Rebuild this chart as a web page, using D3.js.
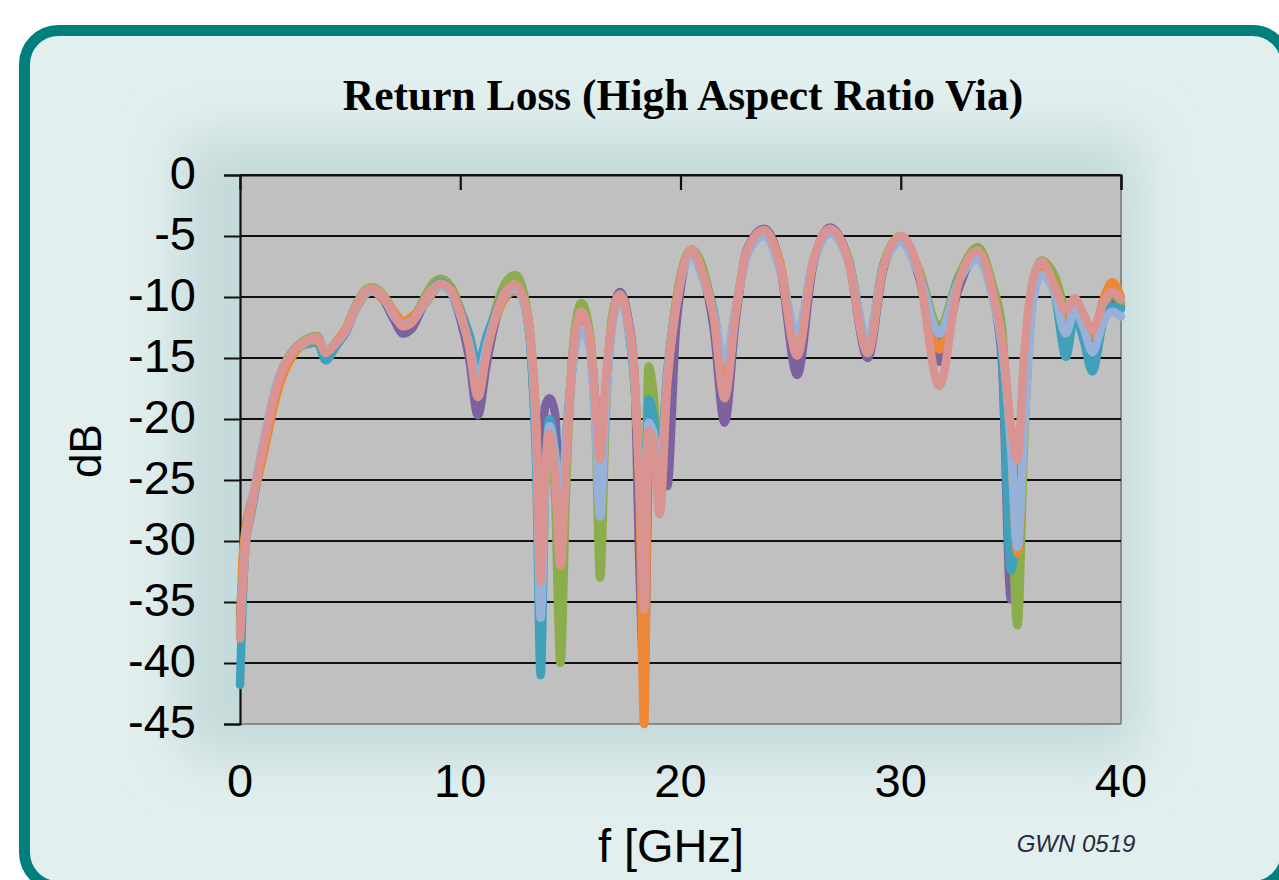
<!DOCTYPE html>
<html>
<head>
<meta charset="utf-8">
<script src="https://cdn.jsdelivr.net/npm/d3@7"></script>
<style>
  html, body { margin: 0; padding: 0; background: #ffffff; }
  svg { display: block; }
</style>
</head>
<body>
<svg id="chart" width="1279" height="880"></svg>
<script>
// Frequency grid (GHz) shared by all traces
const freq = [0, 0.1, 0.25, 0.5, 0.8, 1.2, 1.6, 2.0, 2.4, 2.8, 3.2, 3.5, 3.9, 4.3, 4.8, 5.3, 5.7, 6.0, 6.5, 7.0,
  7.4, 7.8, 8.3, 8.7, 9.1, 9.6, 10.0, 10.4, 10.8, 11.2, 11.6, 12.0, 12.5, 12.9, 13.2, 13.45, 13.65, 13.85, 14.05, 14.3,
  14.55, 14.8, 15.1, 15.5, 15.9, 16.15, 16.35, 16.6, 16.9, 17.25, 17.6, 17.9, 18.15, 18.35, 18.55, 18.75, 19.05, 19.4, 19.8, 20.5,
  21.0, 21.5, 22.0, 22.5, 23.0, 23.8, 24.5, 25.3, 26.0, 26.8, 27.6, 28.5, 29.2, 30.0, 30.8, 31.75, 32.6, 33.5, 34.2, 34.6,
  35.0, 35.3, 35.6, 36.0, 36.4, 37.0, 37.5, 37.9, 38.3, 38.7, 39.2, 39.6, 40.0];

// Return loss traces (dB), one per measured via
const rlPurple = [-36.0, -33.5, -30.0, -27.6, -24.8, -21.2, -18.0, -15.8, -14.6, -13.9, -13.6, -13.5, -14.9, -14.1, -12.9, -10.8, -9.7, -9.5, -10.2, -11.9,
  -13.0, -12.6, -10.8, -9.5, -9.0, -9.7, -11.8, -15.0, -19.7, -15.5, -12.0, -9.9, -9.3, -10.5, -14.0, -22.0, -24.0, -19.0, -18.3, -19.5,
  -28.0, -23.0, -15.5, -11.5, -13.6, -19.0, -24.0, -17.5, -11.8, -9.6, -11.5, -16.0, -33.0, -41.4, -24.0, -20.0, -21.5, -25.5, -12.5, -6.2,
  -8.0, -12.5, -20.3, -12.0, -6.2, -4.4, -7.2, -16.4, -7.6, -4.3, -6.8, -15.0, -7.8, -5.1, -8.2, -15.3, -9.5, -6.5, -10.0, -15.5,
  -34.8, -30.0, -20.0, -9.5, -7.5, -9.5, -13.0, -10.8, -12.5, -13.8, -11.0, -10.2, -10.8];
const rlGreen = [-37.0, -34.0, -30.2, -27.5, -24.6, -21.0, -17.7, -15.6, -14.4, -13.7, -13.3, -13.2, -14.6, -14.0, -12.6, -10.5, -9.4, -9.2, -9.8, -11.3,
  -12.2, -11.9, -10.3, -9.0, -8.5, -9.2, -11.0, -13.8, -17.5, -14.0, -11.0, -9.0, -8.2, -9.8, -13.5, -21.0, -31.0, -25.0, -21.0, -26.0,
  -40.0, -26.0, -14.5, -10.5, -13.2, -21.0, -33.0, -20.0, -11.5, -9.8, -11.8, -16.5, -25.0, -30.0, -15.7, -17.5, -23.5, -16.5, -10.3, -6.1,
  -7.5, -11.5, -17.5, -11.2, -6.4, -4.6, -7.2, -14.0, -7.3, -4.5, -6.8, -14.0, -7.4, -5.0, -7.6, -12.5, -8.4, -5.9, -9.2, -12.5,
  -26.0, -36.9, -22.0, -9.0, -7.0, -8.3, -10.8, -10.3, -11.8, -13.0, -10.8, -9.8, -10.5];
const rlTeal = [-41.8, -36.0, -30.5, -27.8, -24.8, -21.0, -17.6, -15.6, -14.5, -14.0, -13.8, -13.7, -15.2, -14.2, -12.8, -10.7, -9.6, -9.4, -10.0, -11.5,
  -12.3, -12.0, -10.6, -9.4, -8.8, -9.5, -11.0, -13.0, -15.5, -13.2, -11.3, -9.6, -9.1, -10.5, -14.5, -24.0, -41.0, -26.0, -20.0, -22.5,
  -27.0, -21.5, -15.5, -12.0, -14.0, -20.5, -25.0, -18.5, -12.0, -10.0, -12.2, -17.0, -24.0, -30.0, -18.4, -19.5, -24.0, -16.0, -10.5, -6.3,
  -8.2, -11.0, -16.0, -11.2, -6.6, -4.8, -7.5, -13.5, -7.4, -4.6, -6.7, -13.8, -7.4, -5.3, -7.8, -13.5, -8.6, -6.6, -10.0, -15.0,
  -32.4, -28.0, -20.0, -9.8, -7.6, -9.8, -14.9, -11.5, -13.5, -16.1, -12.0, -10.8, -11.0];
const rlOrange = [-37.0, -32.0, -29.0, -26.8, -25.0, -21.8, -18.5, -16.2, -14.8, -14.0, -13.6, -13.6, -14.5, -13.8, -12.6, -10.9, -9.8, -9.5, -10.2, -11.2,
  -12.0, -11.6, -10.8, -9.8, -9.1, -9.6, -11.2, -14.0, -17.5, -14.2, -11.8, -10.2, -9.5, -10.3, -13.6, -20.5, -32.0, -25.0, -21.5, -23.0,
  -30.0, -23.0, -15.0, -11.5, -13.6, -19.5, -24.0, -17.5, -12.0, -10.0, -12.0, -16.5, -27.0, -45.0, -21.5, -21.0, -25.0, -16.5, -10.5, -6.4,
  -8.2, -11.5, -16.1, -11.3, -6.4, -4.7, -7.0, -14.0, -7.4, -4.5, -6.8, -14.2, -7.5, -5.1, -7.7, -14.3, -8.9, -6.3, -9.8, -13.8,
  -22.0, -31.0, -21.0, -9.6, -7.4, -9.0, -11.5, -10.4, -11.8, -13.2, -10.2, -8.8, -10.0];
const rlBlue = [-37.5, -34.0, -30.0, -27.2, -24.3, -20.7, -17.6, -15.6, -14.5, -13.9, -13.5, -13.4, -14.3, -13.9, -12.8, -10.8, -9.7, -9.5, -10.0, -11.6,
  -12.2, -12.0, -10.7, -9.6, -9.1, -9.7, -11.5, -13.8, -16.8, -14.0, -11.6, -9.9, -9.3, -10.6, -14.0, -22.0, -36.3, -26.0, -20.6, -23.0,
  -28.0, -22.0, -15.8, -12.6, -14.5, -21.0, -28.0, -19.0, -12.4, -10.4, -12.2, -16.5, -25.0, -32.5, -20.3, -21.0, -25.0, -16.5, -10.8, -6.6,
  -8.4, -11.2, -15.2, -11.0, -6.7, -5.0, -7.6, -13.0, -7.3, -4.8, -7.0, -13.5, -7.6, -5.5, -8.0, -13.0, -8.8, -6.9, -10.3, -14.0,
  -22.0, -30.5, -21.0, -10.5, -8.2, -9.8, -13.0, -11.0, -12.5, -14.5, -12.0, -11.2, -11.6];
const rlPink = [-38.0, -34.5, -30.5, -27.6, -24.6, -21.0, -17.8, -15.7, -14.5, -13.8, -13.4, -13.3, -14.6, -13.9, -12.7, -10.6, -9.5, -9.3, -9.9, -11.4,
  -12.4, -12.1, -10.5, -9.4, -8.9, -9.5, -11.3, -14.0, -18.2, -14.6, -11.6, -9.7, -9.0, -10.3, -13.6, -20.5, -33.3, -24.5, -21.2, -24.5,
  -32.0, -24.0, -15.0, -11.2, -13.6, -19.0, -23.3, -17.0, -11.8, -9.8, -11.8, -16.0, -26.0, -35.6, -21.0, -21.8, -27.8, -17.0, -10.8, -6.1,
  -8.0, -11.5, -18.3, -11.4, -6.3, -4.5, -7.3, -14.8, -7.2, -4.4, -6.9, -14.6, -7.6, -5.0, -7.8, -17.3, -9.0, -6.2, -9.8, -13.5,
  -20.5, -23.3, -14.8, -8.6, -7.1, -9.2, -11.1, -10.1, -11.4, -12.7, -10.5, -9.6, -10.2];

// Drawing order: first listed is drawn underneath
const traces = [
  { values: rlPurple, color: "#7e62a0" },
  { values: rlGreen,  color: "#8cad4c" },
  { values: rlTeal,   color: "#40a1bb" },
  { values: rlOrange, color: "#ec8838" },
  { values: rlBlue,   color: "#97b1d8" },
  { values: rlPink,   color: "#d99492" }
];

const xTicks = [0, 10, 20, 30, 40];
const yTicks = [0, -5, -10, -15, -20, -25, -30, -35, -40, -45];

const titleText = "Return Loss (High Aspect Ratio Via)";
const xLabel = "f [GHz]";
const yLabel = "dB";
const stamp = "GWN 0519";

const svg = d3.select("#chart");
const plot = { left: 240, right: 1121, top: 175, bottom: 724 };

const x = d3.scaleLinear().domain([0, 40]).range([plot.left, plot.right]);
const y = d3.scaleLinear().domain([-45, 0]).range([plot.bottom, plot.top]);

// Panel background with soft shading around the plot
const defs = svg.append("defs");
defs.append("filter").attr("id", "haze")
  .attr("x", "-30%").attr("y", "-30%").attr("width", "160%").attr("height", "160%")
  .append("feGaussianBlur").attr("stdDeviation", 28);

svg.append("rect")
  .attr("x", 24.5).attr("y", 30.5).attr("width", 1262).attr("height", 856)
  .attr("rx", 34).attr("ry", 34)
  .attr("fill", "#e2efef");

svg.append("rect")
  .attr("x", plot.left - 60).attr("y", plot.top - 40)
  .attr("width", plot.right - plot.left + 80).attr("height", plot.bottom - plot.top + 75)
  .attr("fill", "#c4d9d9")
  .attr("filter", "url(#haze)");

svg.append("rect")
  .attr("x", 24.5).attr("y", 30.5).attr("width", 1262).attr("height", 856)
  .attr("rx", 34).attr("ry", 34)
  .attr("fill", "none")
  .attr("stroke", "#00807d")
  .attr("stroke-width", 11);

// Plot area
svg.append("rect")
  .attr("x", plot.left).attr("y", plot.top)
  .attr("width", plot.right - plot.left).attr("height", plot.bottom - plot.top)
  .attr("fill", "#c0c0c0");

// Right and bottom borders
svg.append("line")
  .attr("x1", plot.right).attr("x2", plot.right)
  .attr("y1", plot.top).attr("y2", plot.bottom)
  .attr("stroke", "#8a8a8a").attr("stroke-width", 2);
svg.append("line")
  .attr("x1", plot.left).attr("x2", plot.right)
  .attr("y1", plot.bottom).attr("y2", plot.bottom)
  .attr("stroke", "#8a8a8a").attr("stroke-width", 2);

// Horizontal gridlines
svg.append("g")
  .selectAll("line")
  .data(yTicks.filter(v => v !== -45))
  .join("line")
  .attr("x1", plot.left).attr("x2", plot.right)
  .attr("y1", d => y(d)).attr("y2", d => y(d))
  .attr("stroke", "#111").attr("stroke-width", 2);

// Y axis with outward ticks; labels use a plain hyphen for the sign
const yAxis = svg.append("g")
  .attr("transform", `translate(${plot.left},0)`)
  .call(d3.axisLeft(y).tickValues(yTicks).tickSize(16).tickPadding(28).tickFormat(d => String(d)));
yAxis.select(".domain").attr("stroke", "#111").attr("stroke-width", 2.2);
yAxis.selectAll(".tick line").attr("stroke", "#111").attr("stroke-width", 2);
yAxis.selectAll(".tick text")
  .attr("font-family", "'Liberation Sans', Arial, sans-serif")
  .attr("font-size", 47)
  .attr("fill", "#000")
  .attr("dy", "0.33em")
  .attr("transform", "translate(0,-2)");

// X axis along the top edge with inward ticks; labels placed below the plot
const xAxis = svg.append("g")
  .attr("transform", `translate(0,${plot.top})`)
  .call(d3.axisBottom(x).tickValues(xTicks).tickSize(15).tickFormat(""));
xAxis.select(".domain").attr("stroke", "#111").attr("stroke-width", 2.2);
xAxis.selectAll(".tick line").attr("stroke", "#111").attr("stroke-width", 2.2);
xAxis.selectAll(".tick").filter(d => d === 0).select("line").remove();

svg.append("g")
  .selectAll("text")
  .data(xTicks)
  .join("text")
  .attr("x", d => x(d))
  .attr("y", 797)
  .attr("text-anchor", "middle")
  .attr("font-family", "'Liberation Sans', Arial, sans-serif")
  .attr("font-size", 47)
  .attr("fill", "#000")
  .text(d => d);

// Traces
const line = d3.line()
  .x((d, i) => x(freq[i]))
  .y(d => y(d))
  .curve(d3.curveMonotoneX);

svg.append("g")
  .selectAll("path")
  .data(traces)
  .join("path")
  .attr("d", d => line(d.values))
  .attr("fill", "none")
  .attr("stroke", d => d.color)
  .attr("stroke-width", 8.5)
  .attr("stroke-linejoin", "round")
  .attr("stroke-linecap", "round");

// Titles and labels
svg.append("text")
  .attr("x", 683).attr("y", 110)
  .attr("text-anchor", "middle")
  .attr("font-family", "'Liberation Serif', 'Times New Roman', serif")
  .attr("font-weight", "bold")
  .attr("font-size", 43.5)
  .attr("fill", "#000")
  .text(titleText);

svg.append("text")
  .attr("transform", "translate(101,451) rotate(-90)")
  .attr("text-anchor", "middle")
  .attr("font-family", "'Liberation Sans', Arial, sans-serif")
  .attr("font-size", 44)
  .attr("fill", "#000")
  .text(yLabel);

svg.append("text")
  .attr("x", 671).attr("y", 862)
  .attr("text-anchor", "middle")
  .attr("font-family", "'Liberation Sans', Arial, sans-serif")
  .attr("font-size", 47)
  .attr("fill", "#000")
  .text(xLabel);

svg.append("text")
  .attr("x", 1076).attr("y", 852)
  .attr("text-anchor", "middle")
  .attr("font-family", "'Liberation Sans', Arial, sans-serif")
  .attr("font-style", "italic")
  .attr("font-size", 24)
  .attr("fill", "#2a2a3a")
  .text(stamp);
</script>
</body>
</html>
